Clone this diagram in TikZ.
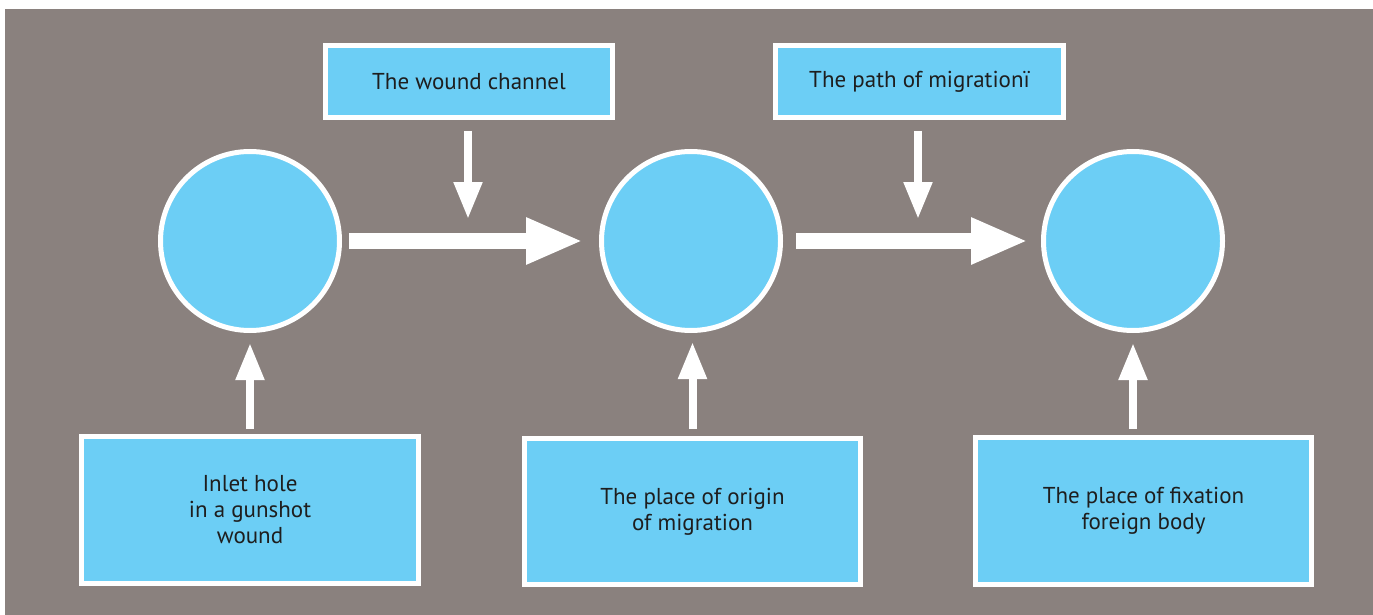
\documentclass[tikz,border=0pt]{standalone}
\usepackage{fontspec}
\setmainfont{PT Sans}
\usetikzlibrary{arrows.meta}
\definecolor{bggrey}{HTML}{8A817E}
\definecolor{skyblue}{HTML}{6CCEF5}
\definecolor{txt}{HTML}{1E1E1E}
\tikzset{
  x=1pt, y=-1pt,
  box/.style={rectangle, draw=white, line width=5pt, fill=skyblue, text=txt,
    font=\fontsize{23}{26}\selectfont, align=center, inner sep=0pt},
  circ/.style={circle, draw=white, line width=5pt, fill=skyblue, minimum size=179pt, inner sep=0pt},
  bigarr/.style={draw=white, line width=16pt, -{Triangle[length=57pt,width=43pt]}},
  smallarr/.style={draw=white, line width=8pt, -{Triangle[length=37pt,width=27pt]}}
}
\begin{document}
\begin{tikzpicture}
\fill[white] (0,0) rectangle (1373,615);
\useasboundingbox (0,0) rectangle (1373,615);
\fill[bggrey] (5,9) rectangle (1373,615);

\node[circ] (c1) at (250,241) {};
\node[circ] (c2) at (691,241) {};
\node[circ] (c3) at (1133,241) {};

\node[box, minimum width=287pt, minimum height=72pt] (tb1) at (469,81.5) {The wound channel};
\node[box, minimum width=288pt, minimum height=72pt] (tb2) at (919.5,81.5) {The path of migrationï};

\node[box, minimum width=337pt, minimum height=147pt] (bb1) at (250,510) {Inlet hole\\in a gunshot\\wound};
\node[box, minimum width=336pt, minimum height=146pt] (bb2) at (692.5,511.5) {The place of origin\\of migration};
\node[box, minimum width=336pt, minimum height=147pt] (bb3) at (1143.5,511) {The place of fixation\\foreign body};

\draw[bigarr, shorten <=7pt, shorten >=16pt] (c1.east) -- (c2.west);
\draw[bigarr, shorten <=13pt, shorten >=13pt] (c2.east) -- (c3.west);

\coordinate (t1) at (468,219);
\coordinate (t2) at (918,219);
\draw[smallarr, shorten <=11pt] (tb1.south -| t1) -- (t1);
\draw[smallarr, shorten <=11pt] (tb2.south -| t2) -- (t2);

\draw[smallarr, shorten <=5pt, shorten >=10pt] (bb1.north -| c1) -- (c1.south);
\draw[smallarr, shorten <=7pt, shorten >=9pt] (bb2.north) -- (bb2.north |- c2.south);
\draw[smallarr, shorten <=6pt, shorten >=10pt] (bb3.north -| c3) -- (c3.south);
\end{tikzpicture}
\end{document}
